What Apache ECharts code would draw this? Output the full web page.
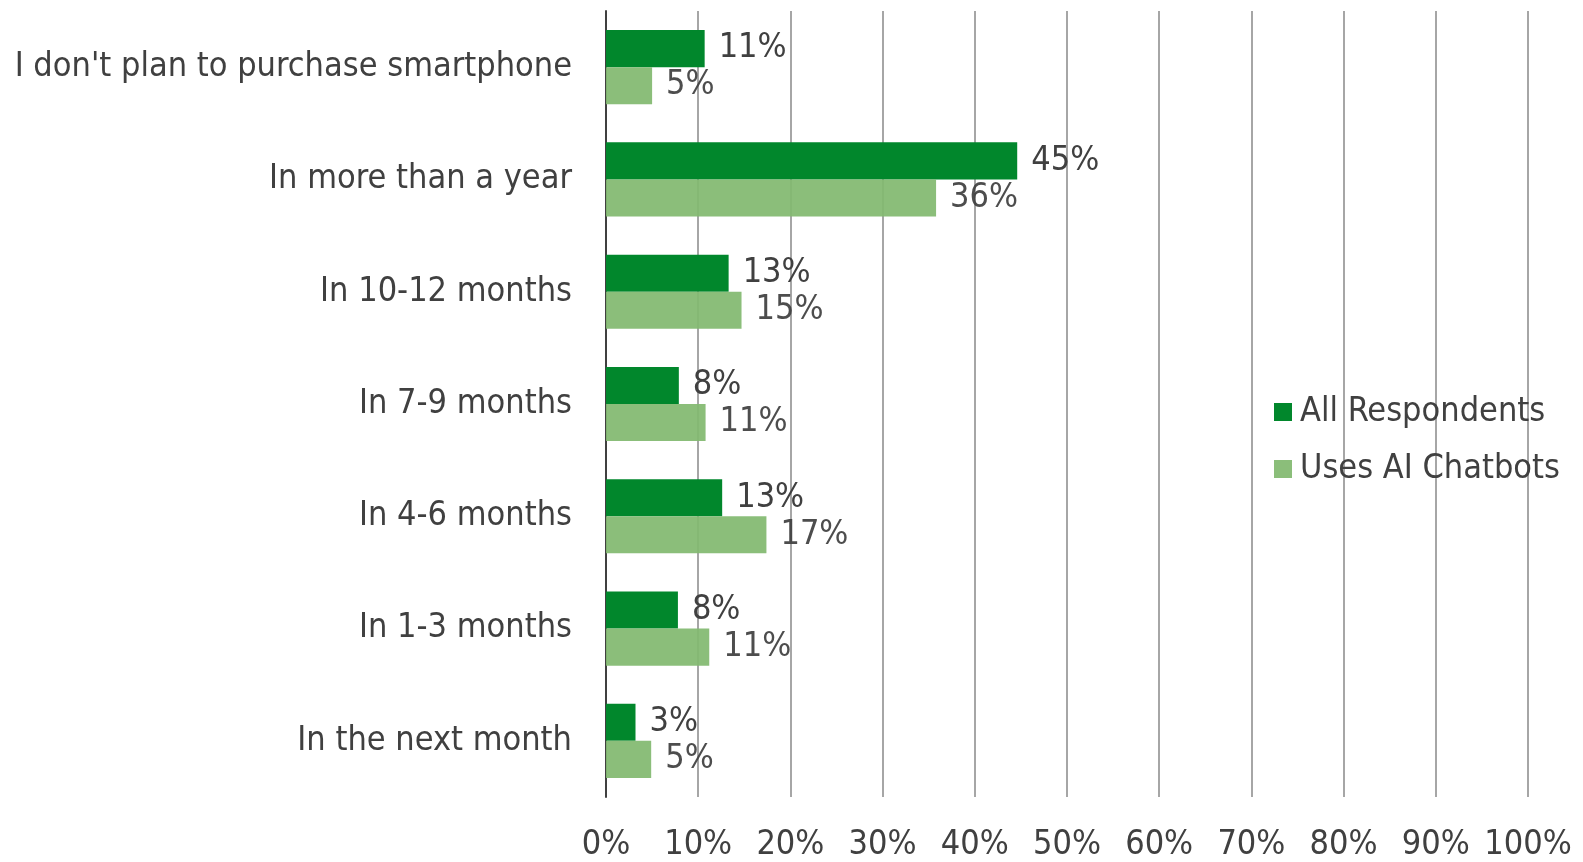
<!DOCTYPE html>
<html>
<head>
<meta charset="utf-8">
<script src="https://cdn.jsdelivr.net/npm/echarts@6/dist/echarts.min.js"></script>
<style>
  html, body { margin: 0; padding: 0; background: #fff; }
  #chart { width: 1583px; height: 862px; }
</style>
</head>
<body>
<div id="chart"></div>
<script>
// categories, top to bottom
const categories = [
  "I don't plan to purchase smartphone",
  'In more than a year',
  'In 10-12 months',
  'In 7-9 months',
  'In 4-6 months',
  'In 1-3 months',
  'In the next month'
]
const allRespondents = [10.7, 44.6, 13.3, 7.9, 12.6, 7.8, 3.2]
const usesAiChatbots = [5.0, 35.8, 14.7, 10.8, 17.4, 11.2, 4.9]
const seriesNames = ['All Respondents', 'Uses AI Chatbots']

const font = '"DejaVu Sans Condensed", "DejaVu Sans", sans-serif'
const textColor = '#404040'

const myChart = echarts.init(document.getElementById('chart'))
const labelOpt = {
  show: true,
  position: 'right',
  distance: 14,
  color: textColor,
  fontFamily: font,
  fontSize: 34,
  padding: [7, 0, 0, 0],
  formatter: p => Math.round(p.value) + '%'
}
const option = {
  animation: false,
  textStyle: { fontFamily: font },
  grid: {
    left: 606,
    right: 55,
    top: 11,
    bottom: 64
  },
  legend: {
    orient: 'vertical',
    left: 1269,
    top: 390,
    itemWidth: 18,
    itemHeight: 18,
    itemGap: 23,
    icon: 'rect',
    data: seriesNames,
    textStyle: { color: textColor, fontFamily: font, fontSize: 34, padding: [0, 0, 0, 3] }
  },
  xAxis: {
    type: 'value',
    min: 0,
    max: 100,
    interval: 10,
    axisLine: { show: false },
    axisTick: { show: false },
    splitLine: { lineStyle: { color: '#a6a6a6', width: 2 } },
    axisLabel: {
      formatter: '{value}%',
      color: textColor,
      fontFamily: font,
      fontSize: 34,
      margin: 31
    }
  },
  yAxis: {
    type: 'category',
    inverse: true,
    data: categories,
    axisLine: { lineStyle: { color: '#404040', width: 2 } },
    axisTick: { show: false },
    axisLabel: {
      color: textColor,
      fontFamily: font,
      fontSize: 34,
      margin: 34,
      padding: [6, 0, 0, 0]
    }
  },
  series: [
    {
      name: seriesNames[0],
      type: 'bar',
      data: allRespondents,
      color: '#01872c',
      barGap: '0%',
      barCategoryGap: '34%',
      label: labelOpt
    },
    {
      name: seriesNames[1],
      type: 'bar',
      data: usesAiChatbots,
      color: '#82b970',
      itemStyle: { opacity: 0.93 },
      label: labelOpt
    }
  ]
}
myChart.setOption(option)
</script>
</body>
</html>
